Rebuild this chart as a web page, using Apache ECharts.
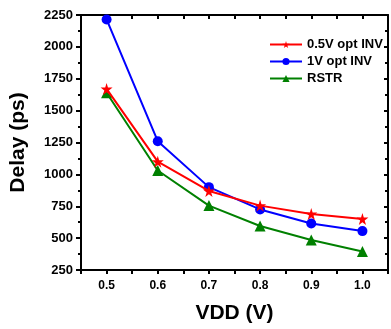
<!DOCTYPE html>
<html>
<head>
<meta charset="utf-8">
<script src="https://cdn.jsdelivr.net/npm/echarts@6/dist/echarts.min.js"></script>
<style>
  html, body { margin: 0; padding: 0; background: #fff; }
  #chart { width: 391px; height: 329px; }
</style>
</head>
<body>
<div id="chart"></div>
<script>
// VDD sweep (V)
const vdd = [0.5, 0.6, 0.7, 0.8, 0.9, 1.0];
// delays in ps
const optInv05 = [1670, 1100, 870, 755, 690, 650];
const optInv1 = [2215, 1260, 900, 725, 615, 555];
const rstr = [1640, 1030, 755, 595, 485, 395];
const seriesNames = ["0.5V opt INV", "1V opt INV", "RSTR"];

const font = "'Liberation Sans', Arial, sans-serif";
const pair = (ys) => vdd.map((x, i) => [x, ys[i]]);

const chart = echarts.init(document.getElementById("chart"));

const xBase = {
  type: "value",
  min: 0.45,
  max: 1.05,
  interval: 0.05,
  axisLine: { lineStyle: { color: "#000", width: 2 } },
  splitLine: { show: false },
};
const yBase = {
  type: "value",
  min: 250,
  max: 2250,
  interval: 250,
  axisLine: { lineStyle: { color: "#000", width: 2 } },
  splitLine: { show: false },
};

const option = {
  animation: false,
  backgroundColor: "#fff",
  textStyle: { fontFamily: font },
  grid: { left: 80, right: -2, top: 15, bottom: 57 },
  legend: {
    orient: "vertical",
    left: 264,
    top: 33,
    itemWidth: 32,
    itemHeight: 9,
    itemGap: 4,
    data: seriesNames,
    textStyle: { fontFamily: font, fontWeight: "bold", fontSize: 13, color: "#000" },
  },
  xAxis: [
    {
      ...xBase,
      position: "bottom",
      name: "VDD (V)",
      nameLocation: "middle",
      nameGap: 33,
      nameTextStyle: { fontFamily: font, fontWeight: "bold", fontSize: 21, color: "#000" },
      axisTick: { length: 4, lineStyle: { color: "#000", width: 2 } },
      axisLabel: {
        margin: 10,
        fontFamily: font,
        fontWeight: "bold",
        fontSize: 12,
        color: "#000",
        formatter: (v) => {
          const r = Math.round(v * 100);
          return r % 10 === 0 ? v.toFixed(1) : "";
        },
      },
    },
    {
      ...xBase,
      position: "top",
      axisTick: { inside: true, length: 4, lineStyle: { color: "#000", width: 2 } },
      axisLabel: { show: false },
    },
  ],
  yAxis: [
    {
      ...yBase,
      position: "left",
      name: "Delay (ps)",
      nameLocation: "middle",
      nameGap: 52,
      nameTextStyle: { fontFamily: font, fontWeight: "bold", fontSize: 21, color: "#000" },
      axisTick: { length: 5, lineStyle: { color: "#000", width: 2 } },
      minorTick: { show: true, splitNumber: 2, length: 3, lineStyle: { color: "#000", width: 2 } },
      axisLabel: {
        margin: 8,
        fontFamily: font,
        fontWeight: "bold",
        fontSize: 13,
        color: "#000",
        formatter: (v) => String(v),
      },
    },
    {
      ...yBase,
      position: "right",
      axisTick: { inside: true, length: 4, lineStyle: { color: "#000", width: 2 } },
      minorTick: { show: true, splitNumber: 2, length: 3, lineStyle: { color: "#000", width: 2 } },
      axisLabel: { show: false },
    },
  ],
  series: [
    {
      name: seriesNames[0],
      type: "line",
      data: pair(optInv05),
      color: "#ff0000",
      symbol: "path://M50,0 L61,35 L98,35 L68,57 L79,91 L50,70 L21,91 L32,57 L2,35 L39,35 Z",
      symbolSize: 12,
      lineStyle: { width: 2 },
      z: 3,
    },
    {
      name: seriesNames[1],
      type: "line",
      data: pair(optInv1),
      color: "#0000ff",
      symbol: "circle",
      symbolSize: 10,
      lineStyle: { width: 2 },
      z: 2,
    },
    {
      name: seriesNames[2],
      type: "line",
      data: pair(rstr),
      color: "#008000",
      symbol: "triangle",
      symbolSize: 11,
      lineStyle: { width: 2 },
      z: 1,
    },
  ],
};

chart.setOption(option);
</script>
</body>
</html>
